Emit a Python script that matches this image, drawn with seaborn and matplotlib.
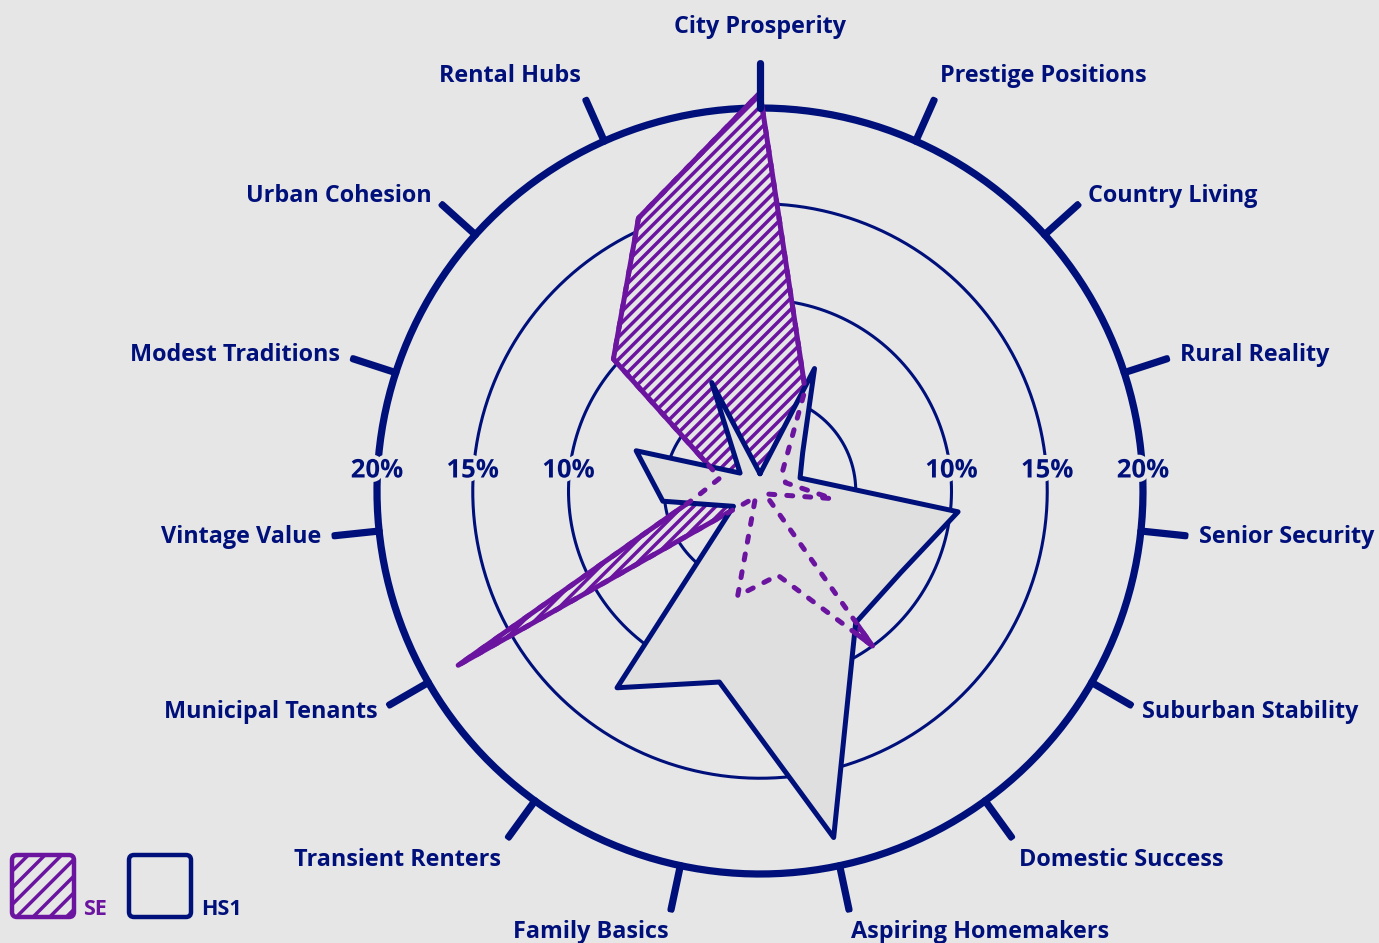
import numpy as np
import matplotlib
matplotlib.use('Agg')
import matplotlib.pyplot as plt
import matplotlib.patheffects as pe
from matplotlib.patches import FancyBboxPatch
import seaborn as sns

# categories clockwise from the top
categories = ['City Prosperity', 'Prestige Positions', 'Country Living', 'Rural Reality',
              'Senior Security', 'Suburban Stability', 'Domestic Success', 'Aspiring Homemakers',
              'Family Basics', 'Transient Renters', 'Municipal Tenants', 'Vintage Value',
              'Modest Traditions', 'Urban Cohesion', 'Rental Hubs']
# share of households in %
se_values = [20.8, 5.8, 1.6, 1.4, 3.8, 0.3, 10.0, 4.5, 5.6, 0.4, 18.2, 3.4, 2.2, 10.3, 15.6]
hs1_values = [0.9, 7.0, 3.0, 2.2, 10.4, 8.5, 8.5, 18.5, 10.2, 12.7, 1.6, 5.1, 6.8, 1.4, 6.2]
rings = [5, 10, 15, 20]
ring_labels = ['10%', '15%', '20%']
series_names = ['SE', 'HS1']

BG = '#e6e6e6'
HS_FILL = '#dfdfdf'
NAVY = '#00107a'
PURPLE = '#6a14a0'

sns.set_style('white', {'axes.facecolor': BG, 'figure.facecolor': BG})
plt.rcParams['font.family'] = ['Open Sans', 'DejaVu Sans']
plt.rcParams['hatch.linewidth'] = 2.5

W, H = 1379, 943
cx, cy = 760, H - 491
px_per_unit = 19.15
rmax = 22.5
rad = rmax * px_per_unit

fig = plt.figure(figsize=(W / 100, H / 100), dpi=100, facecolor=BG)
ax = fig.add_axes([(cx - rad) / W, (cy - rad) / H, 2 * rad / W, 2 * rad / H], projection='polar')
ax.set_theta_zero_location('N')
ax.set_theta_direction(-1)
ax.set_ylim(0, rmax)
ax.set_axis_off()

n = len(categories)
theta = np.deg2rad(np.arange(n) * 360 / n)
th_c = np.append(theta, theta[0] + 2 * np.pi)
se_c = np.append(se_values, se_values[0])
hs_c = np.append(hs1_values, hs1_values[0])

# rings
tt = np.linspace(0, 2 * np.pi, 400)
for r in rings:
    ax.plot(tt, np.full_like(tt, r), color=NAVY, lw=5.2 if r == rings[-1] else 2.2, zorder=1)

line_kw = dict(estimator=None, sort=False, legend=False, solid_joinstyle='round',
               solid_capstyle='round', dash_capstyle='round')

# SE: hatched shape with solid outline
ax.fill(th_c, se_c, facecolor=BG, edgecolor=PURPLE, hatch='///', lw=0, zorder=2)
sns.lineplot(x=th_c, y=se_c, ax=ax, color=PURPLE, lw=3.6, zorder=3, **line_kw)

# HS1: grey shape with navy outline
ax.fill(th_c, hs_c, facecolor=HS_FILL, lw=0, zorder=4)
sns.lineplot(x=th_c, y=hs_c, ax=ax, color=NAVY, lw=3.6, zorder=5, **line_kw)

# SE outline again, dashed where it sits under HS1
sns.lineplot(x=th_c, y=se_c, ax=ax, color=PURPLE, lw=3.6, zorder=6,
             linestyle=(0, (1.2, 2.4)), **line_kw)

# spokes outside the outer ring + labels
for ang, name in zip(theta, categories):
    ax.plot([ang, ang], [20, 22.35], color=NAVY, lw=5.2, solid_capstyle='round', zorder=7)
    s, c = np.sin(ang), np.cos(ang)
    ha = 'center' if abs(s) < 0.1 else ('left' if s > 0 else 'right')
    va = 'bottom' if c > 0.85 else ('top' if c < -0.6 else 'center')
    r_lab = 23.6 if c > 0.99 else (22.9 if c < -0.95 else 23.05)
    ax.text(ang, r_lab, name, ha=ha, va=va, fontsize=16.8, fontweight='bold', color=NAVY)

halo = [pe.withStroke(linewidth=6, foreground=BG)]
for lab, r in zip(ring_labels, rings[1:]):
    for ang in (np.pi / 2, 3 * np.pi / 2):
        ax.annotate(lab, xy=(ang, r), xytext=(0, 21), textcoords='offset pixels',
                    ha='center', va='center', fontsize=18.5, fontweight='bold',
                    color=NAVY, path_effects=halo, zorder=8)

# legend in pixel space
ov = fig.add_axes([0, 0, 1, 1])
ov.set_xlim(0, W)
ov.set_ylim(H, 0)
ov.set_axis_off()
ov.add_patch(FancyBboxPatch((12, 855), 62, 62, boxstyle='round,pad=0,rounding_size=5',
                            facecolor='none', edgecolor=PURPLE, hatch='//', lw=3.2))
ov.add_patch(FancyBboxPatch((129, 855), 62, 62, boxstyle='round,pad=0,rounding_size=5',
                            facecolor='none', edgecolor=NAVY, lw=3.2))
ov.text(83, 915, series_names[0], ha='left', va='baseline', fontsize=15.5,
        fontweight='bold', color=PURPLE)
ov.text(201, 915, series_names[1], ha='left', va='baseline', fontsize=15.5,
        fontweight='bold', color=NAVY)

fig.savefig('out.png', dpi=100, facecolor=BG)
